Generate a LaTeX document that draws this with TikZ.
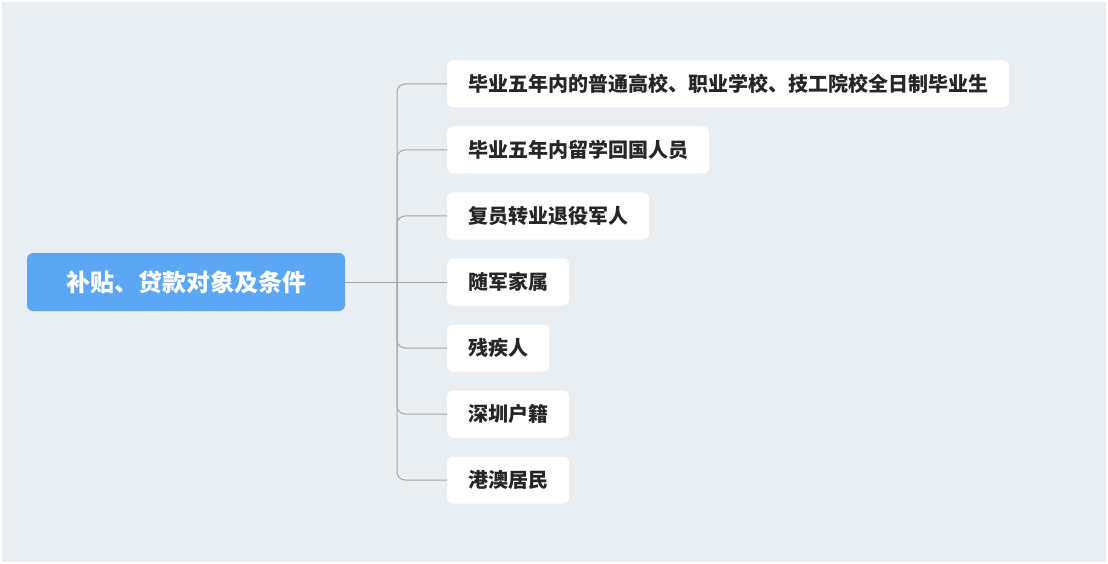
\documentclass[tikz,border=0pt]{standalone}
\usepackage{fontspec}
\setmainfont{Noto Sans CJK SC}
\begin{document}
\begin{tikzpicture}[x=1pt,y=-1pt,
  child/.style={fill=white,rounded corners=6pt,anchor=west,minimum height=47pt,inner xsep=21pt,font=\fontsize{20}{20}\selectfont\bfseries,text=black!85},
  link/.style={draw=black!35,line width=1pt,rounded corners=8pt}]
\fill[white] (0,0) rectangle (1108,564);
\fill[fill={rgb,255:red,233;green,238;blue,243}] (2,2) rectangle (1106,562);
\useasboundingbox (0,0) rectangle (1108,564);
\node[fill={rgb,255:red,92;green,167;blue,245},rounded corners=6pt,minimum width=318pt,minimum height=58pt,text=white,font=\fontsize{24}{24}\selectfont\bfseries] (root) at (186,282) {补贴、贷款对象及条件};
\node[child] (c1) at (447,84) {毕业五年内的普通高校、职业学校、技工院校全日制毕业生};
\node[child] (c2) at (447,150) {毕业五年内留学回国人员};
\node[child] (c3) at (447,216) {复员转业退役军人};
\node[child] (c4) at (447,282) {随军家属};
\node[child] (c5) at (447,348) {残疾人};
\node[child] (c6) at (447,414) {深圳户籍};
\node[child] (c7) at (447,480) {港澳居民};
\coordinate (j) at (397,282);
\draw[link] (root.east) -- (c4.west);
\foreach \c in {c1,c2,c3,c5,c6,c7}{\draw[link] (j) |- (\c.west);}
\end{tikzpicture}
\end{document}
